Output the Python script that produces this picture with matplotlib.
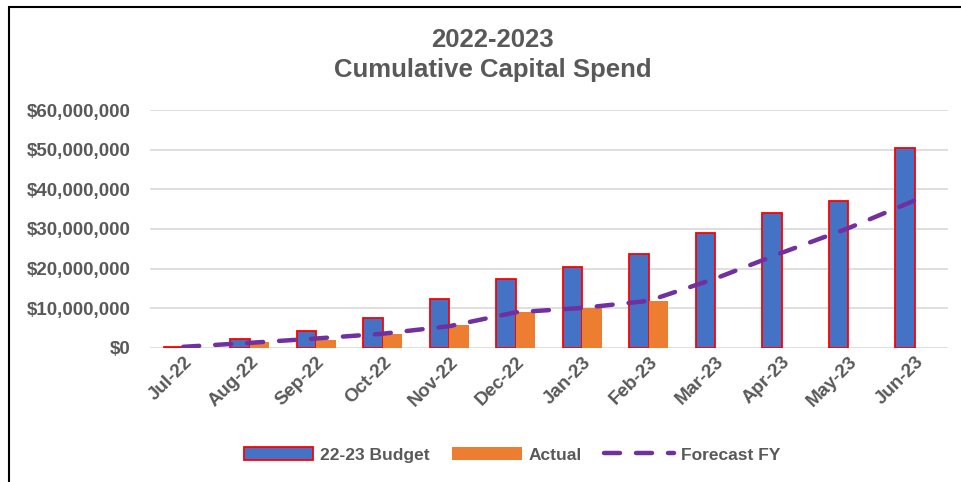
import matplotlib.pyplot as plt
import matplotlib.patches as mpatches
from matplotlib.ticker import FuncFormatter
import numpy as np

plt.rcParams['font.family'] = ['Liberation Sans', 'DejaVu Sans']

months = ['Jul-22', 'Aug-22', 'Sep-22', 'Oct-22', 'Nov-22', 'Dec-22',
          'Jan-23', 'Feb-23', 'Mar-23', 'Apr-23', 'May-23', 'Jun-23']
budget = [0.2e6, 2.3e6, 4.3e6, 7.5e6, 12.3e6, 17.4e6,
          20.5e6, 23.8e6, 28.9e6, 34.0e6, 37.1e6, 50.4e6]
actual = [0.1e6, 1.4e6, 2.1e6, 3.6e6, 5.7e6, 9.0e6, 10.0e6, 11.9e6]
forecast = [0.3e6, 1.3e6, 2.4e6, 3.6e6, 5.5e6, 9.0e6,
            10.1e6, 11.9e6, 17.5e6, 24.0e6, 30.2e6, 37.2e6]

grey = '#595959'
fig = plt.figure(figsize=(9.62, 4.82), dpi=100)
ax = fig.add_axes([150/962, 1-348/482, 798/962, 238/482])

x = np.arange(len(months))
w = 0.29
b1 = ax.bar(x - w/2, budget, w, color='#4472C4', edgecolor='red', linewidth=1.3,
            label='22-23 Budget', zorder=3)
b2 = ax.bar(x[:len(actual)] + w/2, actual, w, color='#ED7D31', label='Actual', zorder=3)
l1, = ax.plot(x, forecast, color='#7030A0', lw=3.2, dashes=(3.6, 3.6),
              dash_capstyle='round', label='Forecast FY', zorder=4)

ax.set_xlim(-0.5, 11.5)
ax.set_ylim(0, 60e6)
ax.set_yticks(np.arange(0, 60e6 + 1, 10e6))
ax.yaxis.set_major_formatter(FuncFormatter(lambda v, p: '${:,.0f}'.format(v)))
ax.grid(axis='y', color='#d9d9d9', lw=1.2, zorder=0)
for s in ax.spines.values():
    s.set_visible(False)
ax.tick_params(length=0, colors=grey, labelsize=13.5)
ax.tick_params(axis='y', pad=14)
ax.tick_params(axis='x', pad=4)
ax.set_xticks(x)
ax.set_xticklabels(months, rotation=45, ha='right', rotation_mode='anchor',
                   fontweight='bold')
for t in ax.get_yticklabels():
    t.set_fontweight('bold')

fig.text(0.512, 1-40/482, '2022-2023', ha='center', va='center',
         fontsize=18.5, fontweight='bold', color=grey)
fig.text(0.512, 1-70/482, 'Cumulative Capital Spend', ha='center', va='center',
         fontsize=18.5, fontweight='bold', color=grey)

leg = fig.legend([b1, b2, l1], ['22-23 Budget', 'Actual', 'Forecast FY'],
                 loc='center', bbox_to_anchor=(0.532, 1-455/482), ncol=3,
                 frameon=False, prop={'weight': 'bold', 'size': 12.5},
                 handlelength=4.0, columnspacing=1.3, handletextpad=0.4)
for t in leg.get_texts():
    t.set_color(grey)

fig.add_artist(mpatches.Rectangle((9/962, -0.1), 1.1, 1 - 7/482 + 0.1,
                                  transform=fig.transFigure, fill=False,
                                  edgecolor='black', lw=1.5))

fig.savefig('out.png', dpi=100)
